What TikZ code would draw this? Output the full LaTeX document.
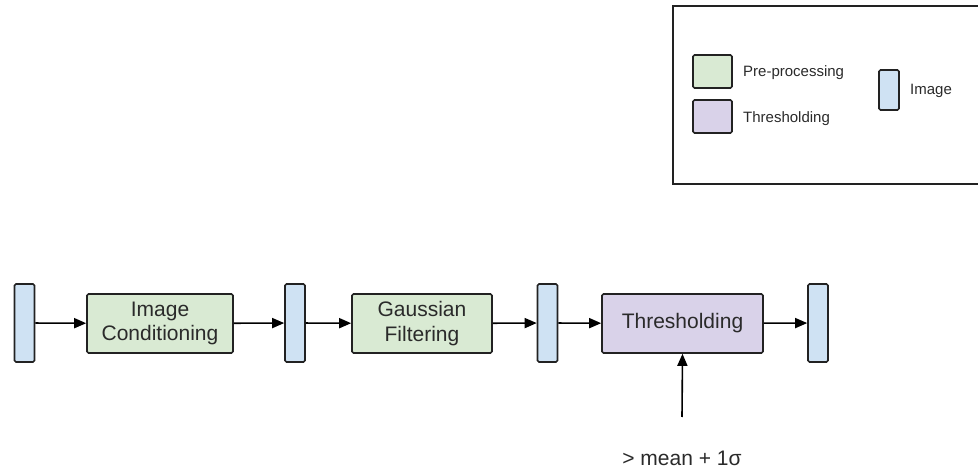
\documentclass[tikz,border=0pt]{standalone}
\usepackage{fontspec}
\setmainfont{Liberation Sans}
\usetikzlibrary{arrows.meta}
\definecolor{pregreen}{HTML}{D9EAD3}
\definecolor{thrpurple}{HTML}{D9D2E9}
\definecolor{imgblue}{HTML}{CFE2F3}
\definecolor{edge}{HTML}{222222}
\definecolor{txt}{HTML}{2A2A2A}
\tikzset{
  base/.style={draw=edge, line width=1.6pt, rounded corners=1.5pt, inner sep=0pt, text=txt},
  imgbox/.style={base, fill=imgblue, minimum width=20pt, minimum height=78pt},
  procbox/.style={base, minimum height=59pt, font=\fontsize{21}{24.5}\selectfont, align=center},
  prebox/.style={procbox, fill=pregreen},
  thrbox/.style={procbox, fill=thrpurple},
  swatch/.style={base, minimum width=39pt, minimum height=33pt},
  legtext/.style={anchor=west, inner sep=0pt, text=txt, font=\fontsize{15}{18}\selectfont},
  conn/.style={line width=1.6pt, draw=black, -{Triangle[length=12pt,width=10pt]}},
}
\begin{document}
\begin{tikzpicture}[x=1pt,y=-1pt]
\useasboundingbox (0,0) rectangle (978,470);
% legend
\node[draw=edge, line width=1.6pt, minimum width=310pt, minimum height=178pt, anchor=north west, inner sep=0pt] (legend) at (672,5) {};
\node[swatch, fill=pregreen] (lgpre) at (712.5,71.5) {};
\node[swatch, fill=thrpurple] (lgthr) at (712.5,116.5) {};
\node[legtext] (lgpretxt) at (743,73) {Pre-processing};
\node[legtext] (lgthrtxt) at (743,119) {Thresholding};
\node[base, fill=imgblue, minimum width=20pt, minimum height=40pt] (lgimg) at (889,90) {};
\node[legtext] (lgimgtxt) at (910,91) {Image};
% pipeline
\node[imgbox] (im1) at (24.5,323) {};
\node[prebox, minimum width=146pt] (cond) at (160,323.5) {Image\\Conditioning};
\node[imgbox] (im2) at (295,323) {};
\node[prebox, minimum width=140pt] (gauss) at (422,323.5) {Gaussian\\Filtering};
\node[imgbox] (im3) at (547.5,323) {};
\node[thrbox, minimum width=161pt] (thr) at (682.5,323.5) {Thresholding};
\node[imgbox] (im4) at (818,323) {};
\coordinate (thin) at (682,417);
\node[inner sep=0pt, text=txt, font=\fontsize{21}{24}\selectfont] (thrlabel) at (682,458) {> mean + 1σ};
\draw[conn] (im1) -- (cond);
\draw[conn] (cond) -- (im2);
\draw[conn] (im2) -- (gauss);
\draw[conn] (gauss) -- (im3);
\draw[conn] (im3) -- (thr);
\draw[conn] (thr) -- (im4);
\draw[conn] (thin) -- (thr.south);
\end{tikzpicture}
\end{document}
